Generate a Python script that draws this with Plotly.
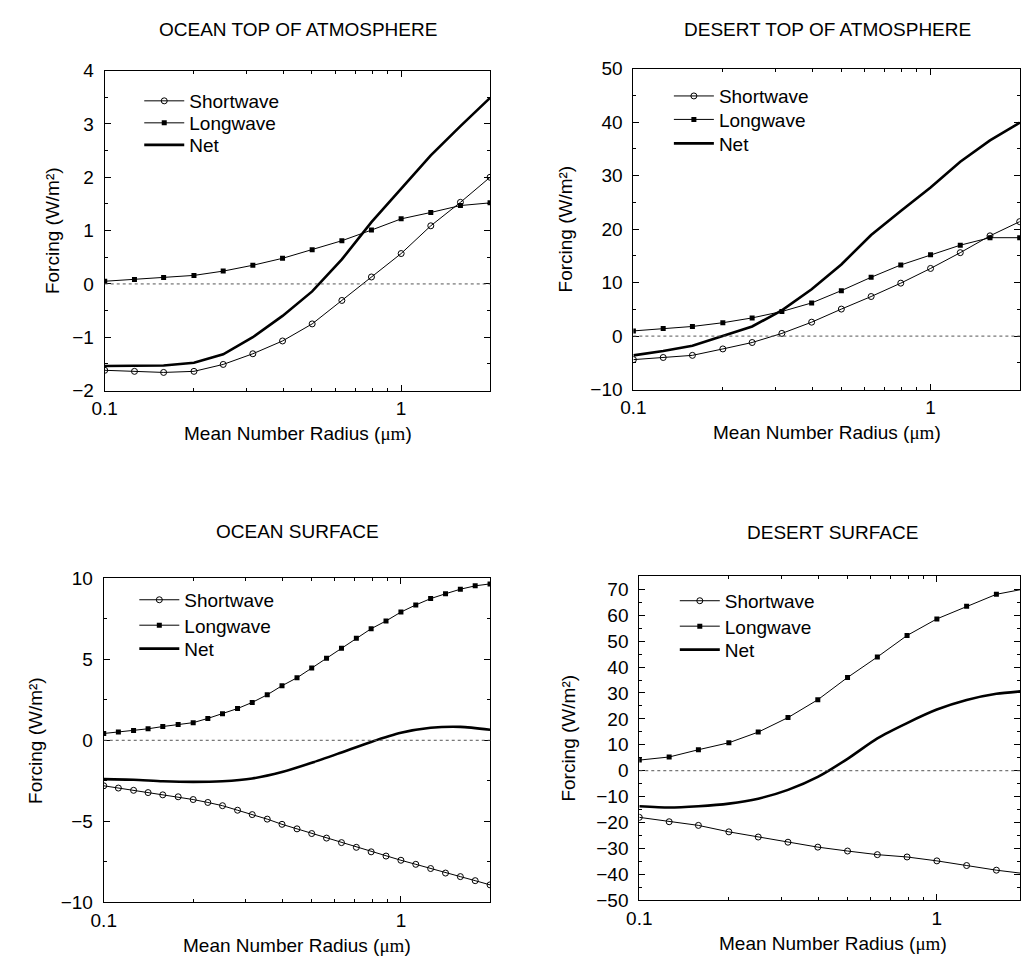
import plotly.graph_objects as go

W, H = 1021, 967

# ---------------- data ----------------
radius_14 = [0.1, 0.126, 0.158, 0.2, 0.251, 0.316, 0.398, 0.501, 0.631, 0.794,
             1.0, 1.259, 1.585, 1.995]
radius_27 = [0.1, 0.112, 0.126, 0.141, 0.158, 0.178, 0.2, 0.224, 0.251, 0.282,
             0.316, 0.355, 0.398, 0.447, 0.501, 0.562, 0.631, 0.708, 0.794, 0.891,
             1.0, 1.122, 1.259, 1.413, 1.585, 1.778, 1.995]

ocean_toa_sw = [-1.62, -1.64, -1.66, -1.64, -1.51, -1.31, -1.07, -0.75, -0.31, 0.13,
                0.57, 1.09, 1.53, 2.0]
ocean_toa_lw = [0.05, 0.085, 0.12, 0.16, 0.24, 0.35, 0.48, 0.64, 0.81, 1.01,
                1.22, 1.34, 1.47, 1.52]
ocean_toa_net = [-1.54, -1.54, -1.53, -1.48, -1.32, -1.0, -0.60, -0.14, 0.46, 1.16,
                 1.78, 2.41, 2.96, 3.49]

desert_toa_sw = [-4.4, -4.0, -3.6, -2.4, -1.2, 0.5, 2.6, 5.05, 7.4, 9.9,
                 12.65, 15.6, 18.75, 21.4]
desert_toa_lw = [0.97, 1.4, 1.8, 2.5, 3.4, 4.6, 6.2, 8.5, 11.0, 13.3,
                 15.2, 17.0, 18.4, 18.4]
desert_toa_net = [-3.6, -2.8, -1.8, 0.05, 1.8, 4.8, 8.75, 13.4, 18.9, 23.4,
                  27.8, 32.6, 36.6, 39.9]

ocean_sfc_sw = [-2.81, -2.95, -3.09, -3.23, -3.37, -3.49, -3.66, -3.84, -4.04, -4.32,
                -4.59, -4.87, -5.19, -5.47, -5.76, -6.04, -6.32, -6.61, -6.89, -7.15,
                -7.41, -7.66, -7.92, -8.20, -8.42, -8.67, -8.93]
ocean_sfc_lw = [0.42, 0.51, 0.61, 0.71, 0.85, 0.97, 1.09, 1.35, 1.64, 1.96,
                2.34, 2.81, 3.37, 3.86, 4.46, 5.07, 5.68, 6.30, 6.89, 7.37,
                7.92, 8.36, 8.75, 9.05, 9.33, 9.54, 9.66]
ocean_sfc_net = [-2.40, -2.44, -2.53, -2.57, -2.53, -2.36, -1.96, -1.39, -0.75, -0.10,
                 0.46, 0.77, 0.83, 0.65]

desert_sfc_sw = [-18.0, -19.7, -21.1, -23.6, -25.6, -27.6, -29.5, -31.0, -32.4, -33.3,
                 -34.8, -36.6, -38.4, -39.8]
desert_sfc_lw = [4.1, 5.3, 8.1, 10.8, 14.9, 20.5, 27.4, 36.0, 43.9, 52.2,
                 58.6, 63.5, 68.1, 70.3]
desert_sfc_net = [-13.7, -14.2, -13.7, -12.7, -10.8, -7.4, -2.4, 4.6, 12.5, 18.4,
                  23.6, 27.3, 29.7, 30.8]

x_tick_vals = [0.1, 1]
x_tick_text = ["0.1", "1"]
x_minor_vals = [0.2, 0.3, 0.4, 0.5, 0.6, 0.7, 0.8, 0.9, 2]

titles = ["OCEAN TOP OF ATMOSPHERE", "DESERT TOP OF ATMOSPHERE",
          "OCEAN SURFACE", "DESERT SURFACE"]
series_names = ["Shortwave", "Longwave", "Net"]
x_title = "Mean Number Radius (<span style='font-family:Liberation Serif'>\u03bcm</span>)"
y_title = "Forcing (W/m\u00b2)"

# ---------------- layout geometry (pixels) ----------------
FONT = "Liberation Sans, Arial, Helvetica, sans-serif"
FS = 19

def px_x(v):
    return v / W

def px_y(v):
    return 1 - v / H

panels = [
    # plot box in px, log-x range, y range, tick steps, y-title x, legend text-x and row centres
    dict(l=93, r=484, t=62, b=389, xr=[-1, 0.301], yr=[-2, 4], dt=1, mdt=0.5,
         ytx=40, legx=178, rows=[93, 115.5, 138]),
    dict(l=629, r=1021, t=60, b=388, xr=[-1, 0.301], yr=[-10, 50], dt=10, mdt=5,
         ytx=560, legx=715, rows=[88, 112, 136.5]),
    dict(l=92, r=484, t=581, b=912, xr=[-1, 0.301], yr=[-10, 10], dt=5, mdt=2.5,
         ytx=23, legx=173, rows=[603, 629, 653]),
    dict(l=635, r=1021, t=579, b=910, xr=[-1, 0.2794], yr=[-50, 75], dt=10, mdt=5,
         ytx=563, legx=721, rows=[604, 630, 654]),
]
full_right = [484, 1022, 484, 1028]
title_centers = [(288.5, 20), (825.5, 20), (288, 533), (831, 534)]

data_sets = [
    (radius_14, ocean_toa_sw, radius_14, ocean_toa_lw, radius_14, ocean_toa_net, "linear"),
    (radius_14, desert_toa_sw, radius_14, desert_toa_lw, radius_14, desert_toa_net, "linear"),
    (radius_27, ocean_sfc_sw, radius_27, ocean_sfc_lw, radius_14, ocean_sfc_net, "spline"),
    (radius_14, desert_sfc_sw, radius_14, desert_sfc_lw, radius_14, desert_sfc_net, "spline"),
]

TEXT_GAP = 50  # plotly: text starts itemwidth + 2*itemGap from legend left

fig = go.Figure()
layout = dict(
    width=W, height=H,
    margin=dict(l=0, r=0, t=0, b=0),
    paper_bgcolor="white", plot_bgcolor="white",
    font=dict(family=FONT, size=FS, color="black"),
    showlegend=True,
)
annotations = []
shapes = []
leg_count = 0

for i, (p, ds) in enumerate(zip(panels, data_sets)):
    n = i + 1
    xa = "x" if n == 1 else f"x{n}"
    ya = "y" if n == 1 else f"y{n}"
    xsw, sw, xlw, lw, xnet, net, shape = ds

    styles = [
        dict(x=xsw, y=sw, mode="lines+markers",
             line=dict(color="black", width=1),
             marker=dict(symbol="circle-open", size=6, color="black", line=dict(width=1))),
        dict(x=xlw, y=lw, mode="lines+markers",
             line=dict(color="black", width=1),
             marker=dict(symbol="square", size=5, color="black")),
        dict(x=xnet, y=net, mode="lines",
             line=dict(color="black", width=2.6, shape=shape, smoothing=0.7)),
    ]
    for j, st in enumerate(styles):
        leg_count += 1
        leg = "legend" if leg_count == 1 else f"legend{leg_count}"
        fig.add_trace(go.Scatter(name=series_names[j], xaxis=xa, yaxis=ya,
                                 legend=leg, **st))
        layout[leg] = dict(
            x=px_x(p["legx"] - TEXT_GAP), y=px_y(p["rows"][j]),
            xanchor="left", yanchor="middle", xref="paper", yref="paper",
            bgcolor="rgba(0,0,0,0)", borderwidth=0,
            font=dict(size=FS, family=FONT, color="black"),
            itemwidth=40,
        )

    xkey = "xaxis" if n == 1 else f"xaxis{n}"
    ykey = "yaxis" if n == 1 else f"yaxis{n}"
    layout[xkey] = dict(
        type="log", range=p["xr"], domain=[px_x(p["l"]), px_x(p["r"])],
        anchor=ya, showgrid=False, zeroline=False,
        showline=True, linecolor="black", linewidth=1, mirror="ticks",
        ticks="inside", ticklen=6, tickwidth=1, tickcolor="black",
        tickmode="array", tickvals=x_tick_vals, ticktext=x_tick_text,
        tickfont=dict(size=FS, family=FONT, color="black"),
        ticklabelstandoff=1,
        minor=dict(ticks="inside", ticklen=3, tickcolor="black", tickwidth=1,
                   tickmode="array", tickvals=x_minor_vals, showgrid=False),
    )
    layout[ykey] = dict(
        range=p["yr"], domain=[px_y(p["b"]), px_y(p["t"])],
        anchor=xa, showgrid=False, zeroline=False,
        showline=True, linecolor="black", linewidth=1, mirror="ticks",
        ticks="inside", ticklen=6, tickwidth=1, tickcolor="black",
        dtick=p["dt"], tick0=0,
        tickfont=dict(size=FS, family=FONT, color="black"),
        ticklabelstandoff=6,
        minor=dict(ticks="inside", ticklen=3, tickcolor="black", tickwidth=1,
                   dtick=p["mdt"], showgrid=False),
    )
    # dotted zero reference line
    shapes.append(dict(type="line", xref=f"{xa} domain", yref=ya,
                       x0=0, x1=1, y0=0, y1=0,
                       line=dict(color="#555555", width=1, dash="dot")))
    # panel title
    tx, ty = title_centers[i]
    annotations.append(dict(text=titles[i], x=px_x(tx), y=px_y(ty), xref="paper",
                            yref="paper", showarrow=False, xanchor="center",
                            yanchor="middle", font=dict(size=FS, family=FONT)))
    # x-axis title
    annotations.append(dict(text=x_title, x=px_x((p["l"] + full_right[i]) / 2),
                            y=px_y(p["b"] + 44), xref="paper", yref="paper",
                            showarrow=False, xanchor="center", yanchor="middle",
                            font=dict(size=FS, family=FONT)))
    # y-axis title
    annotations.append(dict(text=y_title, x=px_x(p["ytx"]), y=px_y((p["t"] + p["b"]) / 2),
                            xref="paper", yref="paper", showarrow=False,
                            textangle=-90, xanchor="center", yanchor="middle",
                            font=dict(size=FS, family=FONT)))

layout["annotations"] = annotations
layout["shapes"] = shapes
fig.update_layout(**layout)

fig.write_html("out.html", config={"displayModeBar": False},
               post_script="document.body.style.margin='0';document.body.style.overflow='hidden';")
